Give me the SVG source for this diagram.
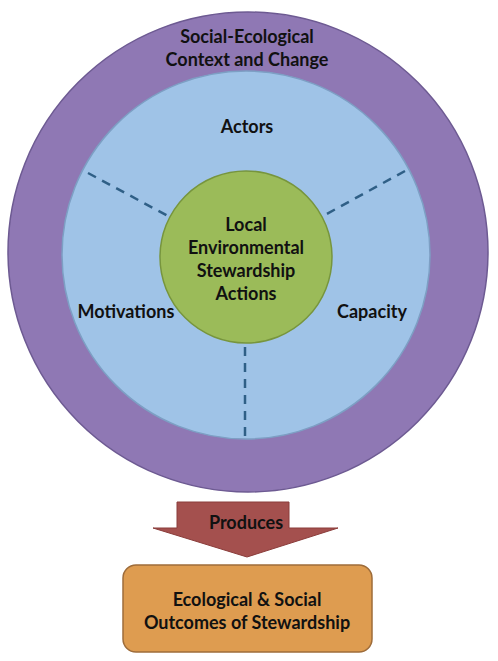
<svg xmlns="http://www.w3.org/2000/svg" width="498" height="661" viewBox="0 0 498 661">
<style>
text{font-family:Lato,"Liberation Sans",sans-serif;font-weight:bold;fill:#111;text-anchor:middle}
.t{font-size:18px}
.dash{stroke:#2f5f86;stroke-width:2.5;stroke-dasharray:9,7;fill:none}
</style>
<rect width="498" height="661" fill="#ffffff"/>
<g id="context">
<circle cx="248" cy="252" r="240" fill="#8f78b4" stroke="#6d5a92" stroke-width="1.5"/>
<text class="t" x="247" y="43">Social-Ecological</text>
<text class="t" x="247" y="66">Context and Change</text>
</g>
<g id="domains">
<circle cx="246" cy="255" r="184" fill="#9fc3e7" stroke="#7d9fc4" stroke-width="1.5"/>
<text class="t" x="247" y="133">Actors</text>
<text class="t" x="126" y="318">Motivations</text>
<text class="t" x="372" y="318">Capacity</text>
</g>
<g id="connectors">
<line class="dash" x1="88" y1="173" x2="168" y2="216"/>
<line class="dash" x1="405" y1="171" x2="323" y2="216"/>
<line class="dash" x1="245" y1="347" x2="245" y2="437"/>
</g>
<g id="actions">
<circle cx="246" cy="257" r="86" fill="#9bbb59" stroke="#77953d" stroke-width="1.5"/>
<text class="t" x="246" y="231">Local</text>
<text class="t" x="246" y="254">Environmental</text>
<text class="t" x="246" y="277">Stewardship</text>
<text class="t" x="246" y="300">Actions</text>
</g>
<g id="produces">
<polygon points="177,502 289,502 289,528 338,528 247,557 153,528 177,528" fill="#a4504e" stroke="#8a3c3a" stroke-width="1"/>
<text class="t" x="246" y="529">Produces</text>
</g>
<g id="outcomes">
<rect x="123" y="565" width="249" height="87" rx="13" fill="#de9c50" stroke="#9e6c3a" stroke-width="1.5"/>
<text class="t" x="247" y="606">Ecological &amp; Social</text>
<text class="t" x="247" y="629">Outcomes of Stewardship</text>
</g>
</svg>
